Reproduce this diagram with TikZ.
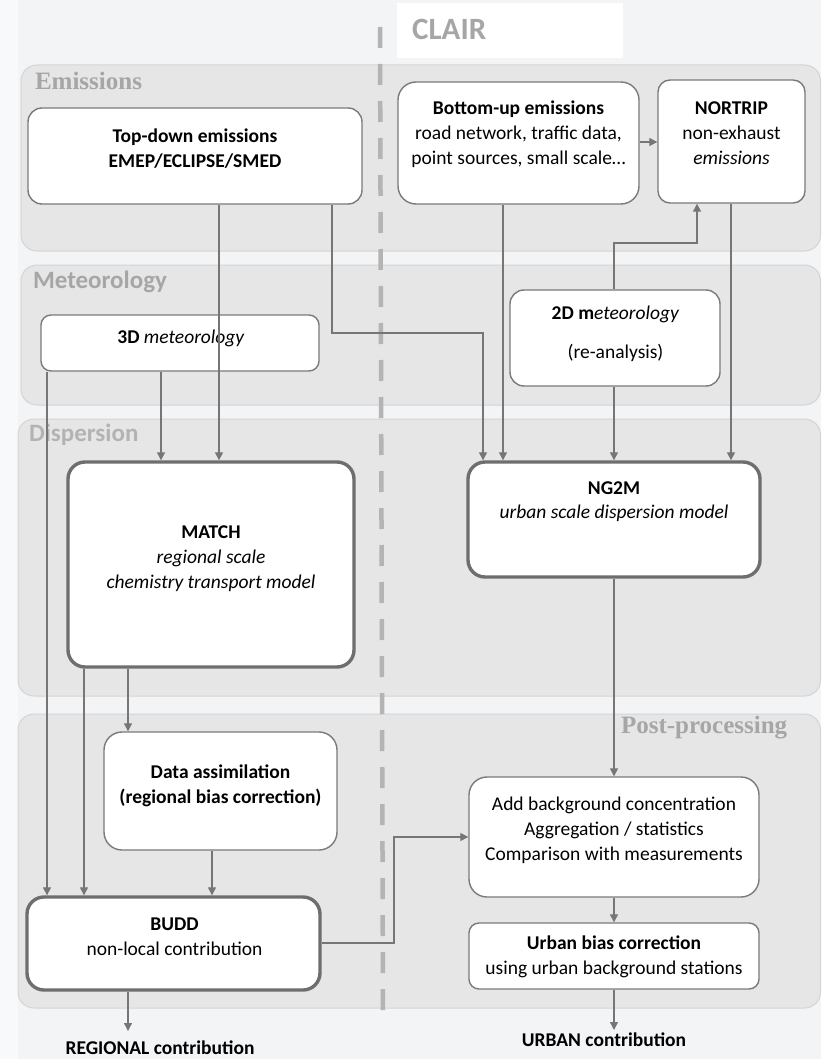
\documentclass[tikz,border=0pt]{standalone}
\usepackage{fontspec}
\setmainfont{Carlito}
\newfontfamily\bandserif{Liberation Serif}
\usetikzlibrary{arrows.meta}
\definecolor{bg}{HTML}{F3F4F6}
\definecolor{bgl}{HTML}{F8F9FA}
\definecolor{bandfill}{HTML}{E6E6E6}
\definecolor{bandline}{HTML}{D4D4D4}
\definecolor{lbl}{HTML}{A6A6A6}
\definecolor{edgec}{HTML}{767676}
\definecolor{boxline}{HTML}{7A7A7A}
\definecolor{thickline}{HTML}{6E6E6E}
\definecolor{dashc}{HTML}{B4B4B4}
\newcommand\mylines[1]{\begin{tabular}[t]{@{}c@{}}#1\end{tabular}}
\begin{document}
\begin{tikzpicture}[x=1pt,y=-1pt,
  band/.style={fill=bandfill, draw=bandline, line width=1pt, rounded corners=16pt},
  boxn/.style={draw=boxline, fill=white, line width=1.4pt, rounded corners=14pt, inner sep=0pt},
  thickbox/.style={boxn, line width=3.4pt, draw=thickline, rounded corners=17pt},
  txt/.style={inner sep=0pt, outer sep=0pt, anchor=base, font=\fontsize{19.5}{25}\selectfont},
  bandlbl/.style={inner sep=0pt, outer sep=0pt, anchor=base west, text=lbl, font=\fontsize{25}{30}\selectfont\bfseries},
  arr/.style={draw=edgec, line width=1.3pt, -{Triangle[length=8pt,width=8pt]}},
  ln/.style={draw=edgec, line width=1.3pt}
]
\useasboundingbox (0,0) rectangle (821,1059);
\fill[bg] (0,0) rectangle (821,1059);
\fill[bgl] (0,0) rectangle (18,1059);

% bands
\draw[band] (21,65) rectangle (820.5,251);
\draw[band] (21,265) rectangle (820.5,405);
\draw[band] (18,419) rectangle (820.5,696);
\draw[band] (18,714) rectangle (820.5,1008);

\node[bandlbl, font=\fontsize{25}{30}\selectfont\bandserif\bfseries] (lemis) at (35,90) {Emissions};
\node[bandlbl] (lmet) at (33,288) {Meteorology};
\node[bandlbl, text=lbl!85!white] (ldisp) at (29,441) {Dispersion};
\node[bandlbl, font=\fontsize{25}{30}\selectfont\bandserif\bfseries] (lpost) at (621,733) {Post-processing};

% CLAIR header
\fill[white] (397,3) rectangle (623,58);
\node[inner sep=0pt, anchor=base west, text=lbl, font=\fontsize{31}{36}\selectfont\bfseries] (clair) at (412,40) {CLAIR};

% dashed divider
\draw[dashc, line width=4.5pt, dash pattern=on 21pt off 16pt] (380,27) -- (383,1018);

% boxes
\node[boxn, minimum width=334pt, minimum height=96pt] (td) at (195,156) {};
\node[boxn, minimum width=241pt, minimum height=122pt, rounded corners=18pt] (bu) at (518.5,143) {};
\node[boxn, minimum width=147pt, minimum height=123pt, rounded corners=12pt] (nor) at (731.5,141.5) {};
\node[boxn, minimum width=278pt, minimum height=56pt, rounded corners=10pt] (m3) at (180,343) {};
\node[boxn, minimum width=210pt, minimum height=96pt] (m2) at (615,338) {};
\node[thickbox, minimum width=286pt, minimum height=205pt] (match) at (211,564.5) {};
\node[thickbox, minimum width=292pt, minimum height=115pt] (ng) at (614,519.5) {};
\node[boxn, minimum width=233pt, minimum height=118pt, rounded corners=18pt] (da) at (220.5,791) {};
\node[thickbox, minimum width=293pt, minimum height=93pt] (budd) at (173.5,943.5) {};
\node[boxn, minimum width=290pt, minimum height=120pt, rounded corners=18pt] (add) at (614,837) {};
\node[boxn, minimum width=290pt, minimum height=66pt, rounded corners=10pt] (ub) at (614,956) {};

% texts
\node[txt] (tdT) at (195,143) {\mylines{\textbf{Top-down emissions}\\\textbf{EMEP/ECLIPSE/SMED}}};
\node[txt] (buT) at (518.5,115) {\mylines{\textbf{Bottom-up emissions}\\road network, traffic data,\\point sources, small scale…}};
\node[txt] (norT) at (731.5,115) {\mylines{\textbf{NORTRIP}\\non-exhaust\\\textit{emissions}}};
\node[txt] (m3T) at (181,343) {\textbf{3D} \textit{meteorology}};
\node[txt] (m2T) at (615.5,319) {\mylines{\textbf{2D m}\textit{eteorology}\\[14pt](re-analysis)}};
\node[txt] (matchT) at (211,538) {\mylines{\textbf{MATCH}\\\textit{regional scale}\\\textit{chemistry transport model}}};
\node[txt] (ngT) at (614,494) {\mylines{\textbf{NG2M}\\[-1pt]\textit{urban scale dispersion model}}};
\node[txt] (daT) at (220.5,778) {\mylines{\textbf{Data assimilation}\\\textbf{(regional bias correction)}}};
\node[txt] (buddT) at (174.5,930) {\mylines{\textbf{BUDD}\\non-local contribution}};
\node[txt] (addT) at (614,810) {\mylines{Add background concentration\\Aggregation / statistics\\Comparison with measurements}};
\node[txt] (ubT) at (614,949) {\mylines{\textbf{Urban bias correction}\\using urban background stations}};
\node[txt] (reg) at (160,1054) {\textbf{REGIONAL contribution}};
\node[txt] (urb) at (604,1046) {\textbf{URBAN contribution}};

% helper coordinates
\coordinate (c1) at (483,333);
\coordinate (c2) at (697,243);
\coordinate (c3) at (394,837);
\coordinate (regin) at (128,1031);
\coordinate (urbin) at (614,1030);

% connectors
\draw[arr] (td.south -| 219,0) -- (match.north -| 219,0);
\draw[arr] (td.south -| 332,0) |- (c1) -- (ng.north -| c1);
\draw[arr] (bu.south -| 503,0) -- (ng.north -| 503,0);
\draw[arr] (bu.east |- 0,142) -- (nor.west |- 0,142);
\draw[arr] (m2.north -| 614,0) |- (c2) -- (nor.south -| c2);
\draw[arr] (nor.south -| 731,0) -- (ng.north -| 731,0);
\draw[arr] (m2.south -| 614,0) -- (ng.north -| 614,0);
\draw[arr] (m3.south -| 161,0) -- (match.north -| 161,0);
\draw[arr] (m3.south -| 47,0) -- (budd.north -| 47,0);
\draw[arr] (match.south -| 84,0) -- (budd.north -| 84,0);
\draw[arr] (match.south -| 128,0) -- (da.north -| 128,0);
\draw[arr] (da.south -| 212,0) -- (budd.north -| 212,0);
\draw[arr] (budd.east |- 0,943) -| (c3) -- (add.west |- c3);
\draw[arr] (budd.south -| 128,0) -- (regin);
\draw[arr] (ng.south) -- (add.north);
\draw[arr] (add.south) -- (ub.north);
\draw[arr] (ub.south) -- (urbin);
\end{tikzpicture}
\end{document}
